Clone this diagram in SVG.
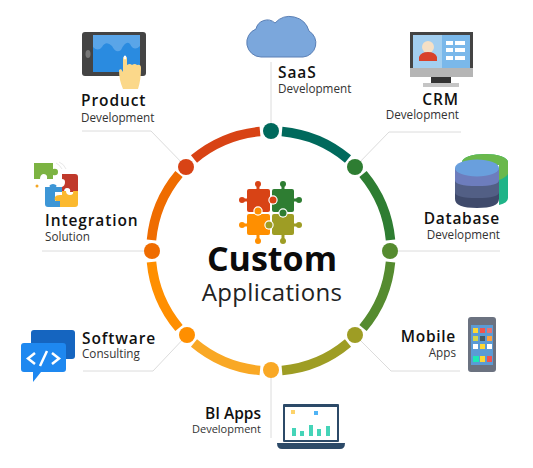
<svg xmlns="http://www.w3.org/2000/svg" width="533" height="468" viewBox="0 0 533 468">
<style>
text{font-family:"Open Sans","Noto Sans",sans-serif;fill:#111}
.t{font-size:15.500px;font-weight:600;letter-spacing:.9px}
.s{font-size:11.700px;fill:#333}
.e{text-anchor:end}
.c{fill:none;stroke:#dcdcdc;stroke-width:1}
.a{fill:none;stroke-width:9.500}
</style>
<rect width="533" height="468" fill="#fff"/>
<g id="connectors">
<path class="c" d="M271 131V62"/>
<path class="c" d="M355 167L389 132H461"/>
<path class="c" d="M390 251H500"/>
<path class="c" d="M355 335L391 371H460"/>
<path class="c" d="M271 370V438"/>
<path class="c" d="M187 335L153 371H83"/>
<path class="c" d="M152 251H42"/>
<path class="c" d="M186 167L151 131H82"/>
</g>
<g id="ring">
<path class="a" stroke="#00695c" d="M282 131.500A120 120 0 0 1 348 159"/>
<path class="a" stroke="#2e7d32" d="M363 174A120 120 0 0 1 390.500 240"/>
<path class="a" stroke="#558b2f" d="M390.500 262A120 120 0 0 1 363 328"/>
<path class="a" stroke="#9e9d24" d="M348 343A120 120 0 0 1 282 370.500"/>
<path class="a" stroke="#f9a825" d="M260 370.500A120 120 0 0 1 194 343"/>
<path class="a" stroke="#ff8f00" d="M179 328A120 120 0 0 1 151.500 262"/>
<path class="a" stroke="#ef6c00" d="M151.500 240A120 120 0 0 1 179 174"/>
<path class="a" stroke="#d84315" d="M194 159A120 120 0 0 1 260 131.500"/>
<circle cx="271" cy="131" r="8" fill="#00695c"/>
<circle cx="355" cy="167" r="8" fill="#2e7d32"/>
<circle cx="390" cy="251" r="8" fill="#558b2f"/>
<circle cx="355" cy="335" r="8" fill="#9e9d24"/>
<circle cx="271" cy="370" r="8" fill="#f9a825"/>
<circle cx="187" cy="335" r="8" fill="#ff8f00"/>
<circle cx="152" cy="251" r="8" fill="#ef6c00"/>
<circle cx="186" cy="167" r="8" fill="#d84315"/>
</g>
<g id="center">
<g fill="#d84315"><rect x="247" y="189" width="23" height="23" rx="2"/><rect x="256.500" y="184" width="3" height="6"/><circle cx="258" cy="184" r="3"/><rect x="242" y="198.500" width="6" height="3"/><circle cx="242" cy="200" r="3"/></g>
<g fill="#2e7d32"><rect x="272" y="189" width="22" height="23" rx="2"/><rect x="281.500" y="184" width="3" height="6"/><circle cx="283" cy="184" r="3"/><rect x="293" y="198.500" width="6" height="3"/><circle cx="299" cy="200" r="3"/></g>
<circle cx="273" cy="200" r="4.700" fill="#fff"/><circle cx="273" cy="200" r="3.500" fill="#d84315"/>
<g fill="#ff8f00"><rect x="247" y="214" width="23" height="21" rx="2"/><rect x="242" y="223.500" width="6" height="3"/><circle cx="242" cy="225" r="3"/><rect x="256.500" y="234" width="3" height="6"/><circle cx="258" cy="241" r="3"/></g>
<circle cx="258" cy="211" r="4.700" fill="#fff"/><circle cx="258" cy="211" r="3.500" fill="#ff8f00"/>
<g fill="#9e9d24"><rect x="272" y="214" width="22" height="21" rx="2"/><rect x="293" y="223.500" width="6" height="3"/><circle cx="299" cy="225" r="3"/><rect x="281.500" y="234" width="3" height="6"/><circle cx="283" cy="241" r="3"/></g>
<circle cx="283" cy="213" r="4.700" fill="#fff"/><circle cx="283" cy="213" r="3.500" fill="#2e7d32"/>
<circle cx="269" cy="225" r="4.700" fill="#fff"/><circle cx="269" cy="225" r="3.500" fill="#9e9d24"/>
<text x="272" y="271" text-anchor="middle" style="font-size:34px;font-weight:700;fill:#0b0b0b">Custom</text>
<text x="272" y="301" text-anchor="middle" style="font-size:24px;letter-spacing:.3px;fill:#222">Applications</text>
</g>
<g id="product">
<rect x="82" y="32" width="64" height="44" rx="3" fill="#444"/>
<rect x="93" y="35" width="47" height="37" fill="#2a8be0"/>
<path d="M93 35H140V46Q134 52 130 44Q126 40 121 50Q116 54 112 46Q106 40 102 47Q98 52 93 47Z" fill="#5aa5e8"/>
<ellipse cx="88" cy="54" rx="2.500" ry="4" fill="#777"/>
<path d="M123 89Q119 80 119 70L121 69L123 72V58Q125 54 127 58V65Q130 63 132 65Q135 63 137 65Q141 64 141 68Q141 80 138 89Z" fill="#fbd88a"/>
<ellipse cx="125" cy="57.500" rx="1.300" ry="2" fill="#fff"/>
<text class="t" x="81" y="106">Product</text>
<text class="s" x="81" y="122">Development</text>
</g>
<g id="saas">
<path d="M261 57A14.500 14.500 0 0 1 256 29A11.500 11.500 0 0 1 275 23A20 20 0 0 1 309 31A14 14 0 0 1 303 57Z" fill="#7ba7dc" stroke="#5a7fb5" stroke-width="1"/>
<text class="t" x="278" y="78">SaaS</text>
<text class="s" x="278" y="93">Development</text>
</g>
<g id="crm">
<rect x="410" y="32" width="63" height="36" fill="#444"/>
<rect x="413" y="35" width="57" height="33" fill="#7ab8ea"/>
<rect x="410" y="68" width="63" height="9" fill="#b5b5b5"/>
<rect x="431" y="77" width="20" height="6" fill="#333"/>
<rect x="423" y="83" width="36" height="4" fill="#c5c5c5"/>
<rect x="413" y="35" width="29" height="33" fill="#a3cff0"/>
<circle cx="428" cy="47" r="6" fill="#f5e0c5"/>
<path d="M419 61V57Q421 52 428 52Q435 52 437 57V61Z" fill="#d8412a"/>
<g fill="#fff"><rect x="446" y="41" width="7" height="4"/><rect x="446" y="48" width="7" height="4"/><rect x="446" y="56" width="7" height="4"/><rect x="455" y="41" width="10" height="4"/><rect x="455" y="48" width="10" height="4"/><rect x="455" y="56" width="10" height="4"/></g>
<text class="t e" x="459" y="105">CRM</text>
<text class="s e" x="459" y="119">Development</text>
</g>
<g id="integration">
<path d="M56 163Q60 165 62 169M59 162Q64 164 66 169" fill="none" stroke="#e8e8e8" stroke-width="1"/>
<path d="M34 163H53V169Q58 168 58 172Q58 176 53 175V179H47Q48 174 43 174Q40 175 40 179H34Z" fill="#7cb342"/>
<path d="M62 174H75Q78 174 78 177V192H70Q71 188 67 188Q64 188 64 192H62V187Q65 186 65 182Q65 179 62 179Z" fill="#c0392b"/>
<path d="M45 187H50Q48 185 53 184Q58 185 56 187H62V192H55V201H62V207H48Q45 207 45 204Z" fill="#3d96d6"/>
<path d="M62 191H66Q66 195 70 195Q74 195 73 191H78V204Q78 207 75 207H60V201H56Q54 200 55 197Q56 195 60 195H62Z" fill="#fbb92f"/>
<circle cx="37" cy="186" r="1.500" fill="#f5a623"/>
<text class="t" x="45" y="226">Integration</text>
<text class="s" x="45" y="241">Solution</text>
</g>
<g id="database">
<path d="M462 162A23 8 0 0 1 508 162V198Q508 203 499 205V165Z" fill="#1fb488"/>
<path d="M462 162A23 8 0 0 1 508 162V174Q505 178 499 180V165Z" fill="#6ab84c"/>
<path d="M455 168V199Q455 208 477 208Q499 208 499 199V168Z" fill="#3f4a6b"/>
<path d="M455 168V192Q455 198 477 198Q499 198 499 192V168Z" fill="#525f85"/>
<path d="M455 168V180Q455 186 477 186Q499 186 499 180V168Z" fill="#6d7dbd"/>
<ellipse cx="477" cy="168" rx="22" ry="8.500" fill="#699fdd"/>
<text class="t e" x="500" y="224" style="letter-spacing:.7px">Database</text>
<text class="s e" x="500" y="239">Development</text>
</g>
<g id="mobile">
<rect x="468" y="317" width="28" height="55" rx="3" fill="#6b7280"/>
<rect x="471" y="325" width="22" height="40" fill="#5b9bd5"/>
<rect x="473" y="328" width="5" height="5" fill="#fdd835"/><rect x="480" y="328" width="5" height="5" fill="#ef5350"/><rect x="487" y="328" width="5" height="5" fill="#e57373"/>
<rect x="473" y="336" width="5" height="5" fill="#d4d64a"/><rect x="480" y="336" width="5" height="5" fill="#455a64"/><rect x="487" y="336" width="5" height="5" fill="#ffa040"/>
<rect x="473" y="344" width="5" height="5" fill="#fff"/><rect x="480" y="344" width="5" height="5" fill="#fdd835"/><rect x="487" y="344" width="5" height="5" fill="#fff"/>
<rect x="473" y="356" width="6" height="6" fill="#1de9b6"/><rect x="480" y="356" width="5" height="6" fill="#fdd835"/><rect x="487" y="356" width="5" height="6" fill="#ef5350"/>
<text class="t e" x="456" y="342" style="letter-spacing:.7px">Mobile</text>
<text class="s e" x="456" y="357">Apps</text>
</g>
<g id="bi">
<rect x="283" y="404" width="56" height="38" rx="1" fill="#2c4a68"/>
<rect x="285" y="407" width="52" height="33" fill="#fff"/>
<path d="M277 443H345Q345 449 340 449H282Q277 449 277 443Z" fill="#2c4a68"/>
<rect x="291" y="410" width="4" height="4" fill="#fdd36a"/>
<rect x="314" y="411" width="4" height="4" fill="#4fb3f5"/>
<g fill="#45d4b8"><rect x="292" y="428" width="4" height="8"/><rect x="300" y="431" width="4" height="5"/><rect x="309" y="425" width="4" height="11"/><rect x="317" y="429" width="4" height="7"/><rect x="326" y="426" width="4" height="10"/></g>
<text class="t e" x="261" y="419" style="font-size:15.500px;letter-spacing:0">BI Apps</text>
<text class="s e" x="261" y="433" style="font-size:11px">Development</text>
</g>
<g id="software">
<rect x="31" y="330" width="44" height="29" rx="3" fill="#1565c0"/>
<path d="M24 343H63Q66 343 66 346V369Q66 372 63 372H41L33 382V372H24Q21 372 21 369V346Q21 343 24 343Z" fill="#1e88f0"/>
<path d="M35 353L28 358.500L35 364M52 353L59 358.500L52 364M47 351L40 366" fill="none" stroke="#fff" stroke-width="2.500"/>
<text class="t" x="82" y="344">Software</text>
<text class="s" x="82" y="358">Consulting</text>
</g>
</svg>
